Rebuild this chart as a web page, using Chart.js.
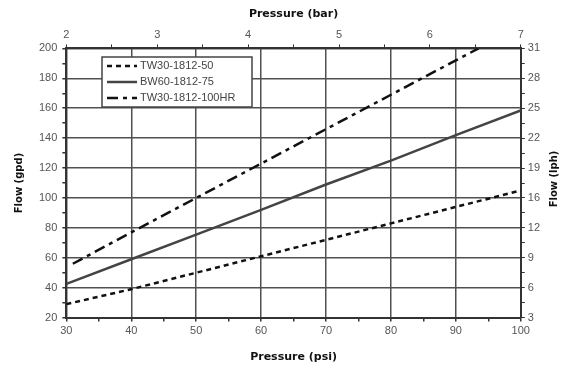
<!DOCTYPE html>
<html>
<head>
<meta charset="utf-8">
<script src="https://cdn.jsdelivr.net/npm/chart.js@4.4.1/dist/chart.umd.min.js"></script>
<style>
  html, body { margin: 0; padding: 0; background: #fff; }
  #wrap { width: 570px; height: 373px; }
</style>
</head>
<body>
<div id="wrap"><canvas id="flowChart" width="570" height="373"></canvas></div>
<script>
// --- data ---
const PSI = [30, 40, 50, 60, 70, 80, 90, 100];
const TW30_50 = [29, 39, 50, 61, 72, 83, 94, 105];
const BW60_75 = [42.5, 59, 75.5, 92, 109, 125, 142, 158.5];
const HR_PSI = [31, 40, 50, 60, 70, 80, 90, 93.5];
const TW30_100HR = [56, 77, 100, 123, 146, 169, 192, 200];
const SERIES = ["TW30-1812-50", "BW60-1812-75", "TW30-1812-100HR"];
const GPD_TICKS = [20, 40, 60, 80, 100, 120, 140, 160, 180, 200];
const LPH_TICKS = [3, 6, 9, 12, 16, 19, 22, 25, 28, 31];
const BAR_RANGE = [2, 7];

(function () {
  "use strict";
  const INK = "#111", GRID = "#505050", MUT = "#555";
  const TICKF = { family: "'Liberation Sans', Arial, sans-serif", size: 11 };
  const TITLEF = { family: "'DejaVu Sans', Verdana, sans-serif", size: 11, weight: "bold" };
  const YTITLEF = { family: "'DejaVu Sans', Verdana, sans-serif", size: 10, weight: "bold" };

  const pts = (xs, ys) => xs.map((x, i) => ({ x: x, y: ys[i] }));
  const major = (v, step) => Math.abs(v / step - Math.round(v / step)) < 1e-6;

  // legend box drawn inside the plot, covering the grid
  const boxLegend = {
    id: "boxLegend",
    afterDatasetsDraw(chart) {
      const c = chart.ctx, ds = chart.data.datasets;
      const x0 = 102, y0 = 57, w = 150, h = 50;
      c.save();
      c.fillStyle = "#fff";
      c.fillRect(x0, y0, w, h);
      c.strokeStyle = "#444"; c.lineWidth = 1.5;
      c.strokeRect(x0, y0, w, h);
      c.font = "11px 'Liberation Sans', Arial, sans-serif";
      c.textBaseline = "middle";
      ds.forEach((d, i) => {
        const y = y0 + 9 + i * 16;
        c.strokeStyle = d.borderColor; c.lineWidth = d.borderWidth;
        c.setLineDash(d.borderDash || []);
        c.beginPath(); c.moveTo(x0 + 5, y); c.lineTo(x0 + 35, y); c.stroke();
        c.setLineDash([]);
        c.fillStyle = "#444";
        c.fillText(d.label, x0 + 38, y);
      });
      c.restore();
    }
  };

  // right axis title reads bottom-to-top, like the left one
  const rightTitle = {
    id: "rightTitle",
    afterDraw(chart) {
      const c = chart.ctx, a = chart.chartArea;
      c.save();
      c.translate(a.right + 34, (a.top + a.bottom) / 2 - 4);
      c.rotate(-Math.PI / 2);
      c.font = "bold 10px 'DejaVu Sans', Verdana, sans-serif";
      c.fillStyle = INK; c.textAlign = "center"; c.textBaseline = "middle";
      c.fillText("Flow (lph)", 0, 0);
      c.restore();
    }
  };

  new Chart(document.getElementById("flowChart"), {
    type: "line",
    data: {
      datasets: [
        { label: SERIES[0], data: pts(PSI, TW30_50), borderColor: INK, borderWidth: 2.5, borderDash: [5, 4], pointRadius: 0, fill: false },
        { label: SERIES[1], data: pts(PSI, BW60_75), borderColor: "#444", borderWidth: 2.5, pointRadius: 0, fill: false },
        { label: SERIES[2], data: pts(HR_PSI, TW30_100HR), borderColor: INK, borderWidth: 2.5, borderDash: [11, 5, 4, 5], pointRadius: 0, fill: false }
      ]
    },
    options: {
      responsive: false, animation: false, devicePixelRatio: 1,
      layout: { padding: { left: 13, right: 27, top: 8, bottom: 9 } },
      plugins: { legend: { display: false }, tooltip: { enabled: false } },
      scales: {
        x: {
          type: "linear", position: "bottom", min: 30, max: 100,
          ticks: { stepSize: 5, color: MUT, font: TICKF, maxRotation: 0, autoSkip: false, padding: 3,
                   callback: v => major(v, 10) ? v : "" },
          grid: { color: c => major(c.tick.value, 10) ? GRID : "rgba(0,0,0,0)", lineWidth: 1.5, tickColor: "#333", tickLength: 4 },
          border: { color: "#333", width: 2 },
          title: { display: true, text: "Pressure (psi)", color: INK, font: TITLEF, padding: { top: 10, bottom: 0 } }
        },
        x2: {
          type: "linear", position: "top", min: BAR_RANGE[0], max: BAR_RANGE[1],
          ticks: { stepSize: 0.5, color: MUT, font: TICKF, maxRotation: 0, autoSkip: false, padding: 3,
                   callback: v => major(v, 1) ? v : "" },
          grid: { drawOnChartArea: false, tickColor: "#333", tickLength: 4 },
          border: { color: "#333", width: 2 },
          title: { display: true, text: "Pressure (bar)", color: INK, font: TITLEF, padding: { top: 0, bottom: 4 } }
        },
        y: {
          type: "linear", position: "left", min: 20, max: 200,
          ticks: { stepSize: 10, color: MUT, font: TICKF, autoSkip: false, padding: 5,
                   callback: v => GPD_TICKS.includes(v) ? v : "" },
          grid: { color: c => GPD_TICKS.includes(c.tick.value) ? GRID : "rgba(0,0,0,0)", lineWidth: 1.5, tickColor: "#333", tickLength: 4 },
          border: { color: "#333", width: 2 },
          title: { display: true, text: "Flow (gpd)", color: INK, font: YTITLEF, padding: { top: 0, bottom: 9 } }
        },
        y2: {
          type: "linear", position: "right", min: 20, max: 200,
          ticks: { stepSize: 10, color: MUT, font: TICKF, autoSkip: false, padding: 3,
                   callback: v => { const i = GPD_TICKS.indexOf(v); return i >= 0 ? LPH_TICKS[i] : ""; } },
          grid: { drawOnChartArea: false, tickColor: "#333", tickLength: 4 },
          border: { color: "#333", width: 2 },
          title: { display: false }
        }
      }
    },
    plugins: [boxLegend, rightTitle]
  });
})();
</script>
</body>
</html>
